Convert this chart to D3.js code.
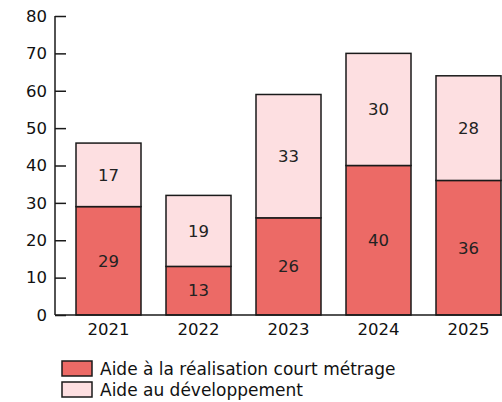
<!DOCTYPE html>
<html>
<head>
<meta charset="utf-8">
<script src="https://cdn.jsdelivr.net/npm/d3@7"></script>
<style>
  body { margin: 0; background: #fff; }
  svg { font-family: "DejaVu Sans", sans-serif; }
</style>
</head>
<body>
<div id="main"></div>
<script>
// chart data
const years = ['2021', '2022', '2023', '2024', '2025'];
const realisation = [29, 13, 26, 40, 36];
const developpement = [17, 19, 33, 30, 28];
const seriesNames = ['Aide à la réalisation court métrage', 'Aide au développement'];
const yTicks = [0, 10, 20, 30, 40, 50, 60, 70, 80];

function main() {
  const width = 502;
  const height = 402;
  const colors = ['#ec6a66', '#fddfe1'];
  const fs = 16.5;
  const svg = d3.select('#main').append('svg')
    .attr('width', width)
    .attr('height', height);

  const x = d3.scaleBand()
    .domain(years)
    .range([55, 522])
    .paddingInner(25 / 90)
    .paddingOuter(21 / 90);
  const y = d3.scaleLinear()
    .domain([0, 80])
    .range([315, 16]);

  // stacked table built from the arrays
  const table = years.map((yr, i) => ({ year: yr, r: realisation[i], d: developpement[i] }));
  const stack = d3.stack().keys(['r', 'd'])(table);

  const bars = svg.append('g');
  stack.forEach((layer, li) => {
    bars.selectAll(null)
      .data(layer)
      .enter()
      .append('rect')
      .attr('x', d => x(d.data.year))
      .attr('y', d => y(d[1]))
      .attr('width', x.bandwidth())
      .attr('height', d => y(d[0]) - y(d[1]))
      .attr('fill', colors[li])
      .attr('stroke', '#1a1a1a')
      .attr('stroke-width', 1.5);
    bars.selectAll(null)
      .data(layer)
      .enter()
      .append('text')
      .attr('x', d => x(d.data.year) + x.bandwidth() / 2)
      .attr('y', d => y((d[0] + d[1]) / 2))
      .attr('dy', '0.35em')
      .attr('text-anchor', 'middle')
      .attr('font-size', fs)
      .attr('fill', '#222')
      .text(d => d[1] - d[0]);
  });

  // y axis, ticks pointing into the plot
  const yAxis = svg.append('g')
    .attr('transform', 'translate(55,0)')
    .call(d3.axisRight(y).tickValues(yTicks).tickSize(11).tickFormat(''));
  yAxis.select('.domain').remove();
  yAxis.selectAll('line').attr('stroke', '#1a1a1a').attr('stroke-width', 1.5);
  yAxis.append('line')
    .attr('x1', 0).attr('x2', 0)
    .attr('y1', y(80)).attr('y2', y(0))
    .attr('stroke', '#1a1a1a').attr('stroke-width', 1.5);
  svg.append('g').selectAll('text')
    .data(yTicks)
    .enter()
    .append('text')
    .attr('x', 47)
    .attr('y', d => y(d))
    .attr('dy', '0.35em')
    .attr('text-anchor', 'end')
    .attr('font-size', fs)
    .attr('fill', '#111')
    .text(d => d);

  // x axis baseline + year labels
  svg.append('line')
    .attr('x1', 55).attr('x2', width)
    .attr('y1', y(0)).attr('y2', y(0))
    .attr('stroke', '#1a1a1a').attr('stroke-width', 1.5);
  svg.append('g').selectAll('text')
    .data(years)
    .enter()
    .append('text')
    .attr('x', d => x(d) + x.bandwidth() / 2)
    .attr('y', 335)
    .attr('text-anchor', 'middle')
    .attr('font-size', fs)
    .attr('fill', '#111')
    .text(d => d);

  // legend
  const legend = svg.append('g').selectAll('g')
    .data(seriesNames)
    .enter()
    .append('g')
    .attr('transform', (d, i) => `translate(62,${361 + i * 21})`);
  legend.append('rect')
    .attr('width', 30)
    .attr('height', 15)
    .attr('fill', (d, i) => colors[i])
    .attr('stroke', '#1a1a1a')
    .attr('stroke-width', 1.5);
  legend.append('text')
    .attr('x', 38)
    .attr('y', 8)
    .attr('dy', '0.35em')
    .attr('font-size', 17)
    .attr('fill', '#111')
    .text(d => d);
}
document.addEventListener('DOMContentLoaded', main);
</script>
</body>
</html>
